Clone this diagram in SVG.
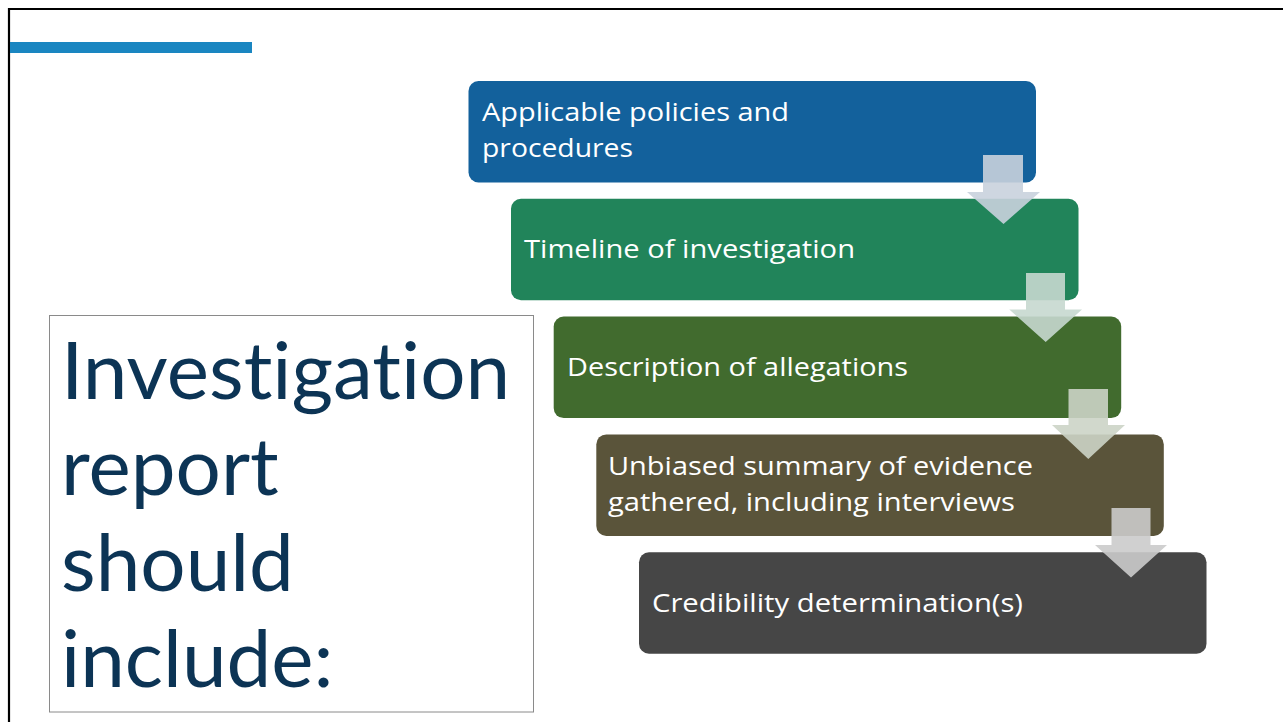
<svg xmlns="http://www.w3.org/2000/svg" width="1283" height="722" viewBox="0 0 1283 722">
<style>
.step{stroke:none}
.lbl{font-family:"Open Sans","Liberation Sans",sans-serif;font-size:25px;fill:#ffffff}
.title{font-family:Lato,"Liberation Sans",sans-serif;font-size:80px;fill:#0c3455;font-variant-ligatures:none;font-feature-settings:"liga" 0,"clig" 0}
.arr{opacity:0.9}
</style>
<rect x="0" y="0" width="1283" height="722" fill="#ffffff"/>
<g id="frame">
<line x1="8" y1="9" x2="1283" y2="9" stroke="#000" stroke-width="2.2"/>
<line x1="9" y1="8" x2="9" y2="722" stroke="#000" stroke-width="2.2"/>
<rect x="10" y="42" width="242" height="11" fill="#1a86c1"/>
</g>
<g id="title">
<rect x="49.5" y="315.5" width="484" height="396.5" fill="none" stroke="#8a8a8a" stroke-width="1"/>
<text class="title" x="61" y="399">Investigation</text>
<text class="title" x="61" y="495">report</text>
<text class="title" x="61" y="591">should</text>
<text class="title" x="61" y="687">include:</text>
</g>
<g id="step1">
<rect class="step" x="468.5" y="81" width="567.5" height="101.5" rx="10" fill="#13619c"/>
<text class="lbl" x="482" y="121" textLength="307" lengthAdjust="spacingAndGlyphs">Applicable policies and</text>
<text class="lbl" x="482" y="157" textLength="151" lengthAdjust="spacingAndGlyphs">procedures</text>
</g>
<g id="step2">
<rect class="step" x="511" y="198.8" width="567.5" height="101.5" rx="10" fill="#21845a"/>
<text class="lbl" x="524" y="258" textLength="331" lengthAdjust="spacingAndGlyphs">Timeline of investigation</text>
</g>
<g id="step3">
<rect class="step" x="553.7" y="316.6" width="567.5" height="101.5" rx="10" fill="#416b2e"/>
<text class="lbl" x="567" y="376" textLength="341" lengthAdjust="spacingAndGlyphs">Description of allegations</text>
</g>
<g id="step4">
<rect class="step" x="596.3" y="434.4" width="567.5" height="101.5" rx="10" fill="#5a543a"/>
<text class="lbl" x="608" y="475" textLength="425" lengthAdjust="spacingAndGlyphs">Unbiased summary of evidence</text>
<text class="lbl" x="608" y="511" textLength="407" lengthAdjust="spacingAndGlyphs">gathered, including interviews</text>
</g>
<g id="step5">
<rect class="step" x="639" y="552.2" width="567.5" height="101.5" rx="10" fill="#464646"/>
<text class="lbl" x="652" y="612" textLength="371" lengthAdjust="spacingAndGlyphs">Credibility determination(s)</text>
</g>
<g id="connectors">
<polygon class="arr" fill="#c9d1dd" points="983,155 1023,155 1023,192 1040,192 1003.5,224 967,192 983,192"/>
<polygon class="arr" fill="#c7d8cf" points="1026,273 1065,273 1065,309.5 1082,309.5 1045.7,342 1009.3,309.5 1026,309.5"/>
<polygon class="arr" fill="#ccd4c7" points="1068.5,389 1108,389 1108,425 1125,425 1088.3,459 1052,425 1068.5,425"/>
<polygon class="arr" fill="#cbcbcb" points="1111.5,508 1150.5,508 1150.5,545 1167,545 1131,577.5 1095,545 1111.5,545"/>
</g>
</svg>
